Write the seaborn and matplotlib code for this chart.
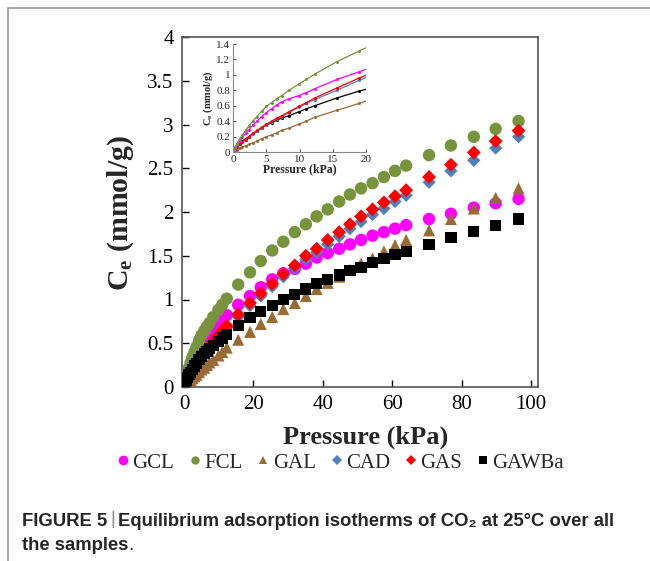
import numpy as np
import pandas as pd
import matplotlib
matplotlib.use("Agg")
import matplotlib.pyplot as plt
from matplotlib.lines import Line2D
import seaborn as sns

sns.set_style("ticks")
plt.rcParams['font.family'] = ['Liberation Serif', 'DejaVu Serif']
plt.rcParams['mathtext.fontset'] = 'custom'
plt.rcParams['mathtext.rm'] = 'Liberation Serif'
plt.rcParams['mathtext.bf'] = 'Liberation Serif:bold'

# ---------------- data ----------------
pressure = [0.1, 0.3, 0.6, 1.0, 1.4, 1.9, 2.4, 3.0, 3.6, 4.3, 5.0, 5.8, 6.6, 7.3, 8.4, 9.9,
            11.0, 12.3, 15.6, 19.0, 22.1, 25.4, 28.6, 31.9, 35.1, 38.2, 41.4, 44.7, 47.8,
            51.0, 54.3, 57.6, 60.8, 64.0, 70.6, 76.9, 83.5, 89.8, 96.4]

gcl = [0.02, 0.05, 0.09, 0.14, 0.19, 0.24, 0.29, 0.35, 0.40, 0.46, 0.51, 0.56, 0.61, 0.65, 0.69, 0.73,
       0.77, 0.82, 0.94, 1.04, 1.14, 1.23, 1.30, 1.35, 1.41, 1.48, 1.53, 1.58, 1.63,
       1.68, 1.73, 1.77, 1.81, 1.85, 1.92, 1.98, 2.05, 2.10, 2.15]
fcl = [0.02, 0.06, 0.11, 0.17, 0.22, 0.28, 0.34, 0.40, 0.46, 0.53, 0.59, 0.64, 0.69, 0.73, 0.80, 0.88,
       0.94, 1.01, 1.17, 1.31, 1.44, 1.56, 1.66, 1.77, 1.86, 1.95, 2.03, 2.12, 2.20,
       2.27, 2.33, 2.40, 2.47, 2.53, 2.65, 2.76, 2.86, 2.95, 3.04]
gal = [0.005, 0.01, 0.03, 0.05, 0.06, 0.08, 0.10, 0.12, 0.14, 0.17, 0.20, 0.22, 0.25, 0.28, 0.31, 0.36,
       0.40, 0.45, 0.54, 0.63, 0.72, 0.80, 0.89, 0.96, 1.04, 1.12, 1.19, 1.26, 1.34,
       1.41, 1.47, 1.55, 1.62, 1.68, 1.79, 1.92, 2.04, 2.16, 2.27]
cad = [0.02, 0.04, 0.07, 0.10, 0.13, 0.16, 0.19, 0.23, 0.27, 0.31, 0.35, 0.39, 0.43, 0.46, 0.51, 0.58,
       0.63, 0.68, 0.80, 0.93, 1.04, 1.15, 1.26, 1.36, 1.46, 1.54, 1.63, 1.72, 1.81,
       1.89, 1.97, 2.04, 2.12, 2.19, 2.34, 2.47, 2.59, 2.73, 2.86]
gas = [0.02, 0.04, 0.07, 0.10, 0.13, 0.16, 0.20, 0.24, 0.28, 0.32, 0.36, 0.40, 0.44, 0.47, 0.52, 0.59,
       0.64, 0.70, 0.83, 0.96, 1.07, 1.18, 1.29, 1.39, 1.50, 1.58, 1.68, 1.77, 1.86,
       1.95, 2.03, 2.11, 2.18, 2.25, 2.40, 2.54, 2.68, 2.81, 2.93]
gawba = [0.02, 0.05, 0.08, 0.11, 0.14, 0.17, 0.20, 0.24, 0.27, 0.31, 0.35, 0.38, 0.41, 0.44, 0.47, 0.52,
         0.56, 0.60, 0.70, 0.79, 0.86, 0.93, 1.00, 1.06, 1.12, 1.18, 1.23, 1.28, 1.33,
         1.37, 1.42, 1.47, 1.51, 1.55, 1.63, 1.71, 1.78, 1.85, 1.92]

names = ["GCL", "FCL", "GAL", "CAD", "GAS", "GAWBa"]
values = [gcl, fcl, gal, cad, gas, gawba]
colors = ["#FF00FF", "#77933C", "#9A6A34", "#4F81BD", "#FF0000", "#000000"]
markers = ["o", "o", "^", "D", "D", "s"]
sizes = [80, 80, 75, 45, 50, 65]
leg_sizes = [7, 6, 6, 5, 5, 6]

x_ticks = [0, 20, 40, 60, 80, 100]
y_ticks = [0, 0.5, 1, 1.5, 2, 2.5, 3, 3.5, 4]
y_tick_labels = ["0", "0.5", "1", "1.5", "2", "2.5", "3", "3.5", "4"]
inset_x_ticks = [0, 5, 10, 15, 20]
inset_y_ticks = [0, 0.2, 0.4, 0.6, 0.8, 1.0, 1.2, 1.4]
inset_y_labels = ["0", "0.2", "0.4", "0.6", "0.8", "1", "1.2", "1.4"]

frames = []
for n, v in zip(names, values):
    frames.append(pd.DataFrame({"P": pressure, "C": v, "sample": n}))
df = pd.concat(frames, ignore_index=True)

# ---------------- figure ----------------
W, H = 650, 561
fig = plt.figure(figsize=(6.5, 5.61), dpi=100)

# outer frame lines
fig.add_artist(Line2D([8/W, 8/W], [0, 1 - 8/H], color="#9a9a9a", lw=1.2))
fig.add_artist(Line2D([8/W, 1], [1 - 8/H, 1 - 8/H], color="#9a9a9a", lw=1.2))

ax = fig.add_axes([182/W, 1 - 387/H, 356/W, 350/H])
for n, c, m, s in zip(names, colors, markers, sizes):
    sub = df[df["sample"] == n]
    sns.scatterplot(data=sub, x="P", y="C", color=c, marker=m, s=s, edgecolor="none",
                    ax=ax, legend=False, zorder=3)
ax.set_xlim(-0.6, 102)
ax.set_ylim(0, 4)
ax.set_xticks(x_ticks)
ax.set_yticks(y_ticks)
ax.set_yticklabels(y_tick_labels)
ax.tick_params(direction="in", length=5, width=1, labelsize=15, colors="#000000", pad=6)
for sp in ax.spines.values():
    sp.set_color("#555555")
    sp.set_linewidth(1.2)
ax.set_xlabel("")
ax.set_ylabel("")
ax.text(0.517, -0.143, "Pressure (kPa)", transform=ax.transAxes, ha="center", va="center",
        fontsize=19, fontweight="bold")
ax.text(-0.171, 0.497, r"$\mathbf{C_e}$ (mmol/g)", transform=ax.transAxes, ha="center",
        va="center", rotation=90, fontsize=21.5, fontweight="bold")

# inset
ins = fig.add_axes([233/W, 1 - 152/H, 133/W, 108/H])
order = [2, 5, 3, 4, 0, 1]
for i in order:
    sub = df[(df["sample"] == names[i]) & (df["P"] <= 23)]
    sns.lineplot(data=sub, x="P", y="C", color=colors[i], marker="o", markersize=2.2,
                 markeredgewidth=0, linewidth=0.9, ax=ins, legend=False, sort=False)
ins.set_xlim(0, 20)
ins.set_ylim(0, 1.4)
ins.set_xticks(inset_x_ticks)
ins.set_yticks(inset_y_ticks)
ins.set_yticklabels(inset_y_labels)
ins.tick_params(direction="in", length=2, width=0.6, labelsize=8, pad=2)
ins.spines["top"].set_visible(False)
ins.spines["right"].set_visible(False)
for sp in ["left", "bottom"]:
    ins.spines[sp].set_color("#888888")
    ins.spines[sp].set_linewidth(0.8)
ins.set_xlabel("Pressure (kPa)", fontsize=8.5, fontweight="bold", labelpad=0)
ins.set_ylabel(r"$\mathbf{C_e}$ (mmol/g)", fontsize=7.5, fontweight="bold", labelpad=1)

# legend
handles = [Line2D([], [], linestyle="none", marker=m, color=c, markersize=ms, markeredgewidth=0)
           for m, c, ms in zip(markers, colors, leg_sizes)]
fig.legend(handles, names, loc="center", bbox_to_anchor=(0.522, 1 - 463/H), ncol=6,
           frameon=False, fontsize=15, handletextpad=0.05, columnspacing=0.6,
           handlelength=0.8, borderaxespad=0)

# caption (pieces placed one after another)
sans = ["Liberation Sans", "DejaVu Sans"]
fig.canvas.draw()
renderer = fig.canvas.get_renderer()


def place(x_px, y_px, s, **kw):
    t = fig.text(x_px / W, 1 - y_px / H, s, va="center", ha="left", family=sans, **kw)
    bb = t.get_window_extent(renderer=renderer)
    return bb.x1


cfs = 13.3
x_end = place(22, 521, "FIGURE 5", fontsize=cfs, fontweight="bold")
x_end = place(x_end + 3, 520, "|", fontsize=cfs, color="#888888")
place(x_end + 3, 521, "Equilibrium adsorption isotherms of CO\u2082 at 25°C over all",
      fontsize=cfs, fontweight="bold")
x_end = place(22, 546, "the samples", fontsize=cfs, fontweight="bold")
place(x_end, 546, ".", fontsize=cfs)

fig.savefig("out.png", dpi=100)
